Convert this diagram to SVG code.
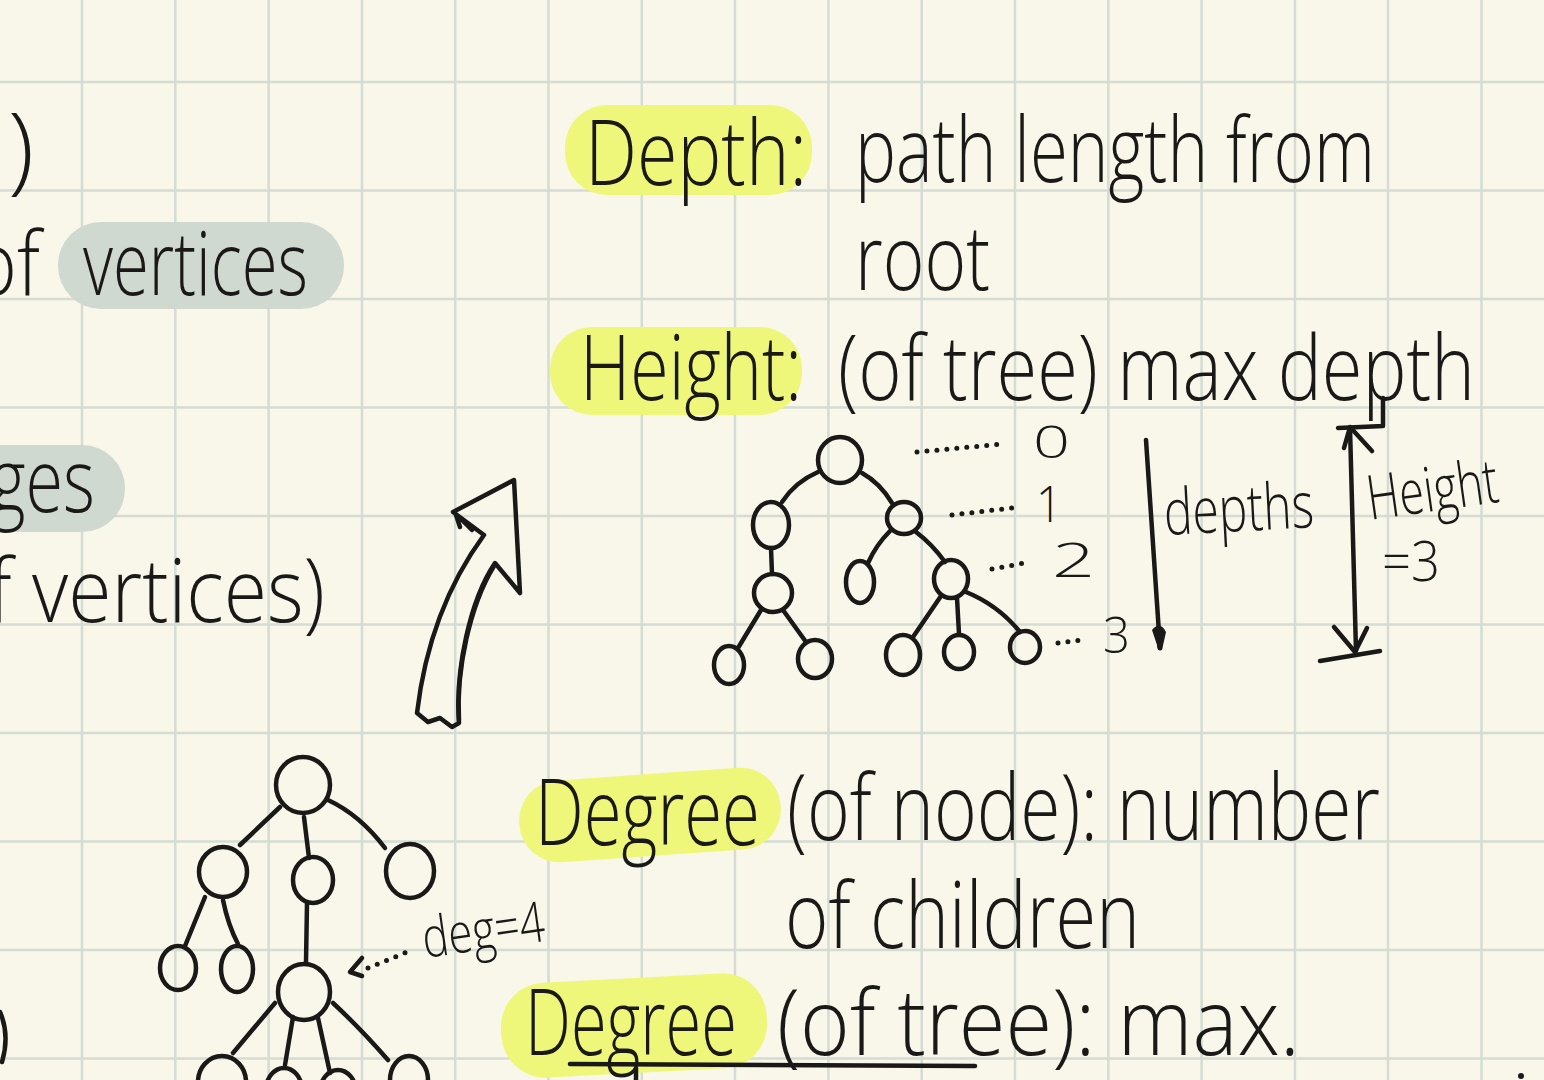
<svg xmlns="http://www.w3.org/2000/svg" width="1544" height="1080" viewBox="0 0 1544 1080">
<style>
.bg{fill:#f8f7ea}
.grid line{stroke:#d5dcd3;stroke-width:2.5}
.hy{fill:#eff77a}
.hg{fill:#d0d9d0}
.t{font-family:"Open Sans","Liberation Sans",sans-serif;font-weight:300;fill:#1b1917}
.ink{fill:none;stroke:#1b1917;stroke-width:4.5;stroke-linecap:round;stroke-linejoin:round}
.dot{fill:none;stroke:#1b1917;stroke-width:5;stroke-linecap:round;stroke-dasharray:0 10}
</style>
<rect class="bg" x="0" y="0" width="1544" height="1080"/>
<g class="grid">
<line x1="82" y1="0" x2="82" y2="1080"/><line x1="175.3" y1="0" x2="175.3" y2="1080"/><line x1="268.6" y1="0" x2="268.6" y2="1080"/><line x1="362" y1="0" x2="362" y2="1080"/><line x1="455.2" y1="0" x2="455.2" y2="1080"/><line x1="548.5" y1="0" x2="548.5" y2="1080"/><line x1="641.8" y1="0" x2="641.8" y2="1080"/><line x1="735" y1="0" x2="735" y2="1080"/><line x1="828.4" y1="0" x2="828.4" y2="1080"/><line x1="921.7" y1="0" x2="921.7" y2="1080"/><line x1="1015" y1="0" x2="1015" y2="1080"/><line x1="1108.3" y1="0" x2="1108.3" y2="1080"/><line x1="1201.6" y1="0" x2="1201.6" y2="1080"/><line x1="1295" y1="0" x2="1295" y2="1080"/><line x1="1388" y1="0" x2="1388" y2="1080"/><line x1="1481.5" y1="0" x2="1481.5" y2="1080"/>
<line x1="0" y1="82" x2="1544" y2="82"/><line x1="0" y1="190.5" x2="1544" y2="190.5"/><line x1="0" y1="299" x2="1544" y2="299"/><line x1="0" y1="407.5" x2="1544" y2="407.5"/><line x1="0" y1="516" x2="1544" y2="516"/><line x1="0" y1="624.5" x2="1544" y2="624.5"/><line x1="0" y1="733" x2="1544" y2="733"/><line x1="0" y1="841.5" x2="1544" y2="841.5"/><line x1="0" y1="950" x2="1544" y2="950"/><line x1="0" y1="1058.5" x2="1544" y2="1058.5"/>
</g>
<g id="highlights">
<rect class="hg" x="58" y="222" width="286" height="87" rx="43"/>
<rect class="hg" x="-40" y="445" width="165" height="87" rx="43"/>
<rect class="hy" x="565" y="105" width="247" height="90" rx="42"/>
<rect class="hy" x="550" y="327" width="252" height="88" rx="42"/>
<rect class="hy" x="519" y="774" width="262" height="82" rx="40" transform="rotate(-4 650 815)"/>
<rect class="hy" x="501" y="978" width="266" height="95" rx="44" transform="rotate(-3 634 1025)"/>
</g>
<g id="left-notes">
<text class="t" x="8" y="182" font-size="96">)</text>
<text class="t" x="-28" y="295" font-size="88" textLength="68" lengthAdjust="spacingAndGlyphs">of</text>
<text class="t" x="83" y="295" font-size="88" textLength="225" lengthAdjust="spacingAndGlyphs">vertices</text>
<text class="t" x="-10" y="512" font-size="88" textLength="105" lengthAdjust="spacingAndGlyphs">ges</text>
<text class="t" x="-12" y="622" font-size="88" textLength="337" lengthAdjust="spacingAndGlyphs">f vertices)</text>
<path class="ink" d="M0,1012 Q10,1035 2,1062"/>
</g>
<g id="big-arrow">
<path class="ink" d="M514,480 L453,512 L484,535 C462,565 428,620 417,713 L428,722 L440,718 L452,727 L459,723 C455,670 470,600 495,563 L520,593 C518,560 516,520 514,480 Z"/>
<path class="ink" stroke-width="7" d="M459,720 C456,670 470,605 494,566"/>
<path class="ink" stroke-width="3" d="M456,515 L460,527 M462,520 L472,530"/>
</g>
<g id="depth-def">
<text class="t" x="585" y="185" font-size="90" textLength="222" lengthAdjust="spacingAndGlyphs">Depth:</text>
<text class="t" x="855" y="182" font-size="90" textLength="520" lengthAdjust="spacingAndGlyphs">path length from</text>
<text class="t" x="855" y="290" font-size="90" textLength="135" lengthAdjust="spacingAndGlyphs">root</text>
</g>
<g id="height-def">
<text class="t" x="580" y="400" font-size="90" textLength="222" lengthAdjust="spacingAndGlyphs">Height:</text>
<text class="t" x="838" y="400" font-size="90" textLength="637" lengthAdjust="spacingAndGlyphs">(of tree) max depth</text>
</g>
<g id="depth-tree">
<g id="d-root"><ellipse class="ink" cx="840" cy="460" rx="22" ry="23"/></g>
<g id="d-a"><ellipse class="ink" cx="771" cy="525" rx="18" ry="23"/></g>
<g id="d-b"><ellipse class="ink" cx="904" cy="518" rx="17" ry="16"/></g>
<g id="d-aa"><ellipse class="ink" cx="773" cy="593" rx="19" ry="19"/></g>
<g id="d-ba"><ellipse class="ink" cx="860" cy="582" rx="14" ry="21"/></g>
<g id="d-bb"><ellipse class="ink" cx="951" cy="579" rx="17" ry="19"/></g>
<g id="d-aaa"><ellipse class="ink" cx="729" cy="665" rx="15" ry="19"/></g>
<g id="d-aab"><ellipse class="ink" cx="815" cy="659" rx="17" ry="19"/></g>
<g id="d-bba"><ellipse class="ink" cx="903" cy="655" rx="17" ry="20"/></g>
<g id="d-bbb"><ellipse class="ink" cx="959" cy="652" rx="15" ry="17"/></g>
<g id="d-bbc"><ellipse class="ink" cx="1025" cy="647" rx="15" ry="16"/></g>
</g>
<g id="degree-tree">
<g id="g-root"><ellipse class="ink" cx="303" cy="785" rx="27" ry="28"/></g>
<g id="g-a"><ellipse class="ink" cx="223" cy="872" rx="24" ry="25"/></g>
<g id="g-b"><ellipse class="ink" cx="313" cy="880" rx="20" ry="23"/></g>
<g id="g-c"><ellipse class="ink" cx="410" cy="871" rx="24" ry="27"/></g>
<g id="g-aa"><ellipse class="ink" cx="178" cy="968" rx="18" ry="22"/></g>
<g id="g-ab"><ellipse class="ink" cx="237" cy="969" rx="16" ry="23"/></g>
<g id="g-ba"><ellipse class="ink" cx="304" cy="992" rx="26" ry="28"/></g>
<g id="g-baa"><ellipse class="ink" cx="222" cy="1082" rx="24" ry="26"/></g>
<g id="g-bab"><ellipse class="ink" cx="284" cy="1090" rx="18" ry="22"/></g>
<g id="g-bac"><ellipse class="ink" cx="338" cy="1092" rx="18" ry="22"/></g>
<g id="g-bad"><ellipse class="ink" cx="409" cy="1080" rx="19" ry="24"/></g>
</g>
<g id="connectors">
<path class="ink" d="M818,472 Q795,482 782,502"/>
<path class="ink" d="M862,473 Q880,483 892,503"/>
<path class="ink" d="M771,548 L772,574"/>
<path class="ink" d="M890,531 Q876,545 868,563"/>
<path class="ink" d="M916,532 Q932,544 945,562"/>
<path class="ink" d="M761,610 L738,648"/>
<path class="ink" d="M783,610 L806,642"/>
<path class="ink" d="M941,596 L913,637"/>
<path class="ink" d="M957,598 L959,634"/>
<path class="ink" d="M966,592 Q998,605 1020,632"/>
<path class="ink" d="M280,807 L240,845"/>
<path class="ink" d="M304,817 L309,858"/>
<path class="ink" d="M328,800 Q360,815 385,848"/>
<path class="ink" d="M205,897 L185,946"/>
<path class="ink" d="M223,900 Q228,925 238,944"/>
<path class="ink" d="M307,903 L306,962"/>
<path class="ink" d="M275,1003 L233,1053"/>
<path class="ink" d="M293,1017 L285,1065"/>
<path class="ink" d="M318,1018 L330,1073"/>
<path class="ink" d="M333,1003 Q360,1028 388,1060"/>
<path class="dot" d="M917,452 L1003,444"/>
<path class="dot" d="M952,515 L1012,508"/>
<path class="dot" d="M992,569 L1030,562"/>
<path class="dot" d="M1058,643 L1082,640"/>
<path class="dot" d="M368,968 L412,950"/>
<path class="ink" d="M362,958 L350,972 L362,976"/>
<path class="ink" d="M1146,440 L1160,648"/>
<path fill="#1b1917" d="M1152,630 Q1160,620 1166,632 L1162,650 Q1157,652 1157,645 Z"/>
<path class="ink" d="M1350,428 L1356,651"/>
<path class="ink" d="M1344,448 L1350,427 L1372,451"/>
<path class="ink" d="M1334,627 L1355,652 L1367,628"/>
<path class="ink" d="M1320,661 L1380,651"/>
<path class="ink" d="M1383,398 L1383,426 L1338,428"/>
</g>
<g id="depth-labels">
<text class="t" x="1033" y="458" font-size="44" textLength="37" lengthAdjust="spacingAndGlyphs">0</text>
<text class="t" x="1036" y="522" font-size="50" textLength="26" lengthAdjust="spacingAndGlyphs">1</text>
<text class="t" x="1052" y="577" font-size="48" textLength="43" lengthAdjust="spacingAndGlyphs">2</text>
<text class="t" x="1103" y="653" font-size="50" textLength="27" lengthAdjust="spacingAndGlyphs">3</text>
<text class="t" x="1165" y="535" font-size="64" textLength="150" lengthAdjust="spacingAndGlyphs" transform="rotate(-3 1165 535)">depths</text>
<text class="t" x="1370" y="520" font-size="62" textLength="132" lengthAdjust="spacingAndGlyphs" transform="rotate(-8 1370 520)">Height</text>
<text class="t" x="1382" y="581" font-size="56" textLength="58" lengthAdjust="spacingAndGlyphs">=3</text>
<text class="t" x="425" y="958" font-size="56" textLength="123" lengthAdjust="spacingAndGlyphs" transform="rotate(-8 425 958)">deg=4</text>
</g>
<g id="degree-def">
<text class="t" x="535" y="845" font-size="92" textLength="225" lengthAdjust="spacingAndGlyphs">Degree</text>
<text class="t" x="787" y="840" font-size="92" textLength="593" lengthAdjust="spacingAndGlyphs">(of node): number</text>
<text class="t" x="785" y="948" font-size="92" textLength="355" lengthAdjust="spacingAndGlyphs">of children</text>
<text class="t" x="525" y="1055" font-size="92" textLength="212" lengthAdjust="spacingAndGlyphs">Degree</text>
<text class="t" x="777" y="1055" font-size="92" textLength="523" lengthAdjust="spacingAndGlyphs">(of tree): max.</text>
<path class="ink" stroke-width="7" d="M570,1064 L975,1066"/>
<path class="ink" d="M636,1068 L636,1080"/>
<circle cx="1521" cy="1076" r="3" fill="#1b1917"/>
</g>
</svg>
